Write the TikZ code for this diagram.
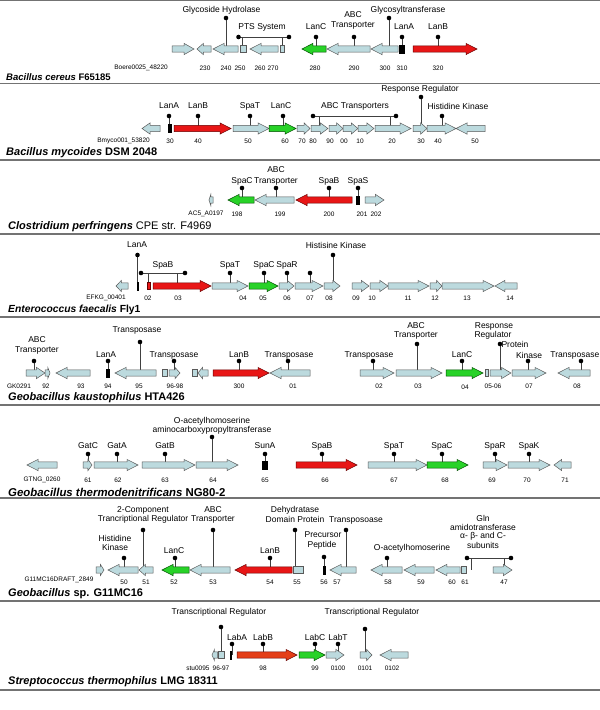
\documentclass[tikz,border=0pt]{standalone}
\usepackage{fontspec}
\setmainfont{Liberation Sans}
\definecolor{lblue}{RGB}{188,218,222}
\definecolor{lgreen}{RGB}{40,210,40}
\definecolor{lred}{RGB}{232,22,22}
\definecolor{lorange}{RGB}{228,62,24}
\tikzset{
 gb/.style={draw=black!65, fill=lblue, line width=0.5pt},
 gg/.style={draw=green!30!black, fill=lgreen, line width=0.5pt},
 gr/.style={draw=red!40!black, fill=lred, line width=0.5pt},
 go/.style={draw=red!40!black, fill=lorange, line width=0.5pt},
 pinl/.style={draw=black!75, line width=0.7pt},
 lab/.style={font=\fontsize{8.5}{9}\selectfont, inner sep=0pt},
 numl/.style={font=\fontsize{6.5}{7}\selectfont, inner sep=0pt},
 sepl/.style={draw=black!55, line width=1.3pt},
}
\newcommand{\geneR}[4][gb]{\pgfmathsetmacro{\hlen}{min(11,0.45*(#3-#2))}\draw[#1] (#2,#4-3.2) -- ({#3-\hlen},#4-3.2) -- ({#3-\hlen},#4-5.6) -- (#3,#4) -- ({#3-\hlen},#4+5.6) -- ({#3-\hlen},#4+3.2) -- (#2,#4+3.2) -- cycle;}
\newcommand{\geneL}[4][gb]{\pgfmathsetmacro{\hlen}{min(11,0.45*(#3-#2))}\draw[#1] (#3,#4-3.2) -- ({#2+\hlen},#4-3.2) -- ({#2+\hlen},#4-5.6) -- (#2,#4) -- ({#2+\hlen},#4+5.6) -- ({#2+\hlen},#4+3.2) -- (#3,#4+3.2) -- cycle;}
\newcommand{\geneB}[4][gb]{\draw[#1] (#2,#4-3.4) rectangle (#3,#4+3.4);}
\newcommand{\geneK}[3]{\fill[black] (#1,#3-4.5) rectangle (#2,#3+4.5);}
\newcommand{\pin}[3]{\draw[pinl] (#1,#2) -- (#1,#3); \fill[black] (#1,#2) circle (2.3pt);}
\newcommand{\brk}[6]{\draw[pinl] (#1,#3) -- (#2,#3) (#4,#3) -- (#4,#6) (#5,#3) -- (#5,#6); \fill[black] (#1,#3) circle (2.3pt) (#2,#3) circle (2.3pt);}
\newcommand{\lab}[3]{\node[lab] at (#1,#2) {#3};}
\newcommand{\gnum}[3]{\node[numl] at (#1,#2) {#3};}
\newcommand{\org}[4]{\node[anchor=west,inner sep=0pt,font=\fontsize{#3}{#3}\selectfont\bfseries] at (#1,#2) {#4};}
\begin{document}
\begin{tikzpicture}[x=1pt,y=-1pt]
\useasboundingbox (0,0) rectangle (600,710);
\fill[white] (0,0) rectangle (600,710);
\draw[sepl] (0,0.7) -- (600,0.7);
% ---------------- Panel 1
\pin{226}{18}{49}
\brk{238.5}{289}{37}{242}{282}{49}
\pin{316}{37}{49}
\pin{354}{37}{49}
\pin{389}{18}{49}
\pin{402}{37}{49}
\pin{438}{37}{49}
\geneR{172}{194}{49}
\geneL{197}{211}{49}
\geneL{213}{238}{49}
\geneB{240}{246}{49}
\geneL{250}{278}{49}
\geneB{280}{284}{49}
\geneL[gg]{302}{326}{49}
\geneL{327}{370}{49}
\geneL{371}{398}{49}
\geneK{399}{405}{49}
\geneR[gr]{413}{477}{49}
\lab{221.5}{10}{Glycoside Hydrolase}
\lab{262}{27}{PTS System}
\lab{316}{27}{LanC}
\lab{353}{15}{ABC}
\lab{353}{25}{Transporter}
\lab{408}{10}{Glycosyltransferase}
\lab{404}{27}{LanA}
\lab{438}{27}{LanB}
\node[numl,anchor=east] at (168,68) {Boere0025\_48220};
\gnum{205}{68}{230}\gnum{226}{68}{240}\gnum{240}{68}{250}\gnum{260}{68}{260}\gnum{273}{68}{270}
\gnum{315}{68}{280}\gnum{354}{68}{290}\gnum{385}{68}{300}\gnum{402}{68}{310}\gnum{438}{68}{320}
\org{6}{77}{9.5}{\itshape Bacillus cereus \upshape F65185}
\draw[sepl] (0,83.5) -- (600,83.5);
% ---------------- Panel 2
\pin{169}{116}{128.5}
\pin{198}{116}{128.5}
\pin{250}{116}{128.5}
\pin{283}{116}{128.5}
\brk{313}{396}{116}{319}{390}{128.5}
\pin{421}{97}{128.5}
\pin{442}{116}{128.5}
\geneL{142}{160}{128.5}
\geneK{168}{172}{128.5}
\geneR[gr]{174}{231}{128.5}
\geneR{233}{269}{128.5}
\geneR[gg]{269}{296}{128.5}
\geneR{297}{310}{128.5}
\geneR{311}{328}{128.5}
\geneR{329}{343}{128.5}
\geneR{343}{358}{128.5}
\geneR{358}{374}{128.5}
\geneR{375}{411}{128.5}
\geneR{413}{427}{128.5}
\geneR{427}{456}{128.5}
\geneL{456}{485}{128.5}
\lab{169}{106}{LanA}\lab{198}{106}{LanB}\lab{250}{106}{SpaT}\lab{281}{106}{LanC}
\lab{355}{106}{ABC Transporters}\lab{458}{106}{Histidine Kinase}
\lab{420}{89}{Response Regulator}
\node[numl,anchor=east] at (150,141) {Bmyco001\_53820};
\gnum{170}{141}{30}\gnum{198}{141}{40}\gnum{248}{141}{50}\gnum{285}{141}{60}\gnum{302}{141}{70}
\gnum{313}{141}{80}\gnum{330}{141}{90}\gnum{344}{141}{00}\gnum{360}{141}{10}\gnum{392}{141}{20}
\gnum{421}{141}{30}\gnum{438}{141}{40}\gnum{475}{141}{50}
\org{6}{153}{11}{\itshape Bacillus mycoides \upshape DSM 2048}
\draw[sepl] (0,160) -- (600,160);
% ---------------- Panel 3
\pin{242}{188}{200}
\pin{276}{188}{200}
\pin{329}{188}{200}
\pin{358}{188}{200}
\geneL{209}{213}{200}
\geneL[gg]{228}{254}{200}
\geneL{255}{294}{200}
\geneL[gr]{296}{352}{200}
\geneK{356}{359.5}{200}
\geneR{365}{384}{200}
\lab{276}{170}{ABC}\lab{276}{181}{Transporter}
\lab{242}{181}{SpaC}\lab{329}{181}{SpaB}\lab{358}{181}{SpaS}
\gnum{206}{214}{AC5\_A0197}\gnum{237}{214}{198}\gnum{280}{214}{199}\gnum{329}{214}{200}
\gnum{362}{214}{201}\gnum{376}{214}{202}
\org{8}{227}{11}{\itshape Clostridium perfringens \upshape\mdseries CPE str. F4969}
\draw[sepl] (0,234) -- (600,234);
% ---------------- Panel 4
\pin{137.5}{255}{286}
\pin{333}{255}{286}
\brk{141}{185}{273}{148.5}{177}{286}
\pin{230}{273}{286}
\pin{264}{273}{286}
\pin{287}{273}{286}
\pin{310}{273}{286}
\geneL{116}{128}{286}
\geneK{136.5}{138.5}{286}
\geneB[gr]{147.5}{150}{286}
\geneR[gr]{153}{211}{286}
\geneR{212}{248}{286}
\geneR[gg]{249}{278}{286}
\geneR{279}{294}{286}
\geneR{295}{323}{286}
\geneR{324}{340}{286}
\geneR{352}{369}{286}
\geneR{370}{388}{286}
\geneR{388}{429}{286}
\geneR{430}{442}{286}
\geneR{442}{494}{286}
\geneL{495}{517}{286}
\lab{137}{245}{LanA}\lab{336}{245}{Histisine Kinase}
\lab{163}{265}{SpaB}\lab{230}{265}{SpaT}\lab{264}{265}{SpaC}\lab{287}{265}{SpaR}
\gnum{106}{298}{EFKG\_00401}\gnum{148}{298}{02}\gnum{178}{298}{03}\gnum{243}{298}{04}\gnum{263}{298}{05}
\gnum{287}{298}{06}\gnum{310}{298}{07}\gnum{329}{298}{08}\gnum{356}{298}{09}\gnum{372}{298}{10}
\gnum{408}{298}{11}\gnum{435}{298}{12}\gnum{467}{298}{13}\gnum{510}{298}{14}
\org{8}{310}{10.3}{\itshape Enterococcus faecalis \upshape Fly1}
\draw[sepl] (0,317) -- (600,317);
% ---------------- Panel 5
\pin{34}{361}{373}
\pin{140}{342}{373}
\pin{108}{361}{373}
\pin{174}{361}{373}
\pin{239}{361}{373}
\pin{288}{361}{373}
\pin{373}{361}{373}
\pin{417}{344}{373}
\pin{462}{361}{373}
\pin{500}{344}{373}
\pin{528}{361}{373}
\pin{581}{361}{373}
\geneR{26}{45}{373}
\geneR{45}{50}{373}
\geneL{56}{90}{373}
\geneK{106}{110}{373}
\geneL{115}{156}{373}
\geneB{162}{167}{373}
\geneR{169}{180}{373}
\geneB{192}{197}{373}
\geneL{198}{208}{373}
\geneR[gr]{213}{269}{373}
\geneL{270}{310}{373}
\geneR{360}{394}{373}
\geneR{396}{442}{373}
\geneR[gg]{446}{483}{373}
\geneB{485}{488}{373}
\geneR{490}{511}{373}
\geneR{512}{546}{373}
\geneL{558}{590}{373}
\lab{37}{340}{ABC}\lab{37}{350}{Transporter}
\lab{137}{330}{Transposase}
\lab{106}{355}{LanA}\lab{174}{355}{Transposase}\lab{239}{355}{LanB}\lab{289}{355}{Transposase}
\lab{369}{355}{Transposase}
\lab{416}{326}{ABC}\lab{416}{335.5}{Transporter}
\lab{462}{355}{LanC}
\lab{494}{326}{Response}\lab{493}{335.5}{Regulator}
\lab{515}{344}{Protein}\lab{529}{355}{Kinase}
\node[lab,anchor=east] at (599.5,355) {Transposase};
\gnum{19}{386}{GK0291}\gnum{46}{386}{92}\gnum{81}{386}{93}\gnum{108}{386}{94}\gnum{139}{386}{95}
\gnum{175}{386}{96-98}\gnum{239}{386}{300}\gnum{293}{386}{01}\gnum{379}{386}{02}\gnum{418}{386}{03}
\gnum{465}{387}{04}\gnum{493}{386}{05-06}\gnum{529}{386}{07}\gnum{577}{386}{08}
\org{8}{398}{11}{\itshape Geobacillus kaustophilus \upshape HTA426}
\draw[sepl] (0,405) -- (600,405);
% ---------------- Panel 6
\pin{212}{437}{465}
\pin{88}{454}{465}
\pin{117}{454}{465}
\pin{165}{454}{465}
\pin{265}{454}{465}
\pin{322}{454}{465}
\pin{394}{454}{465}
\pin{442}{454}{465}
\pin{495}{454}{465}
\pin{529}{454}{465}
\geneL{27}{57}{465}
\geneR{83}{92}{465}
\geneR{94}{138}{465}
\geneR{142}{195}{465}
\geneR{196}{238}{465}
\geneK{262}{268}{465}
\geneR[gr]{296}{357}{465}
\geneR{368}{427}{465}
\geneR[gg]{427}{468}{465}
\geneR{483}{507}{465}
\geneR{508}{550}{465}
\geneL{554}{571}{465}
\lab{212}{421}{O-acetylhomoserine}\lab{212}{430}{aminocarboxypropyltransferase}
\lab{88}{446}{GatC}\lab{117}{446}{GatA}\lab{165}{446}{GatB}\lab{265}{446}{SunA}\lab{322}{446}{SpaB}
\lab{394}{446}{SpaT}\lab{442}{446}{SpaC}\lab{495}{446}{SpaR}\lab{529}{446}{SpaK}
\gnum{42}{480}{GTNG\_0260}\gnum{88}{480}{61}\gnum{118}{480}{62}\gnum{165}{480}{63}\gnum{213}{480}{64}
\gnum{265}{480}{65}\gnum{325}{480}{66}\gnum{394}{480}{67}\gnum{445}{480}{68}\gnum{492}{480}{69}
\gnum{527}{480}{70}\gnum{565}{480}{71}
\org{8}{492}{11.4}{\itshape Geobacillus thermodenitrificans \upshape NG80-2}
\draw[sepl] (0,498) -- (600,498);
% ---------------- Panel 7
\pin{143}{530}{570}
\pin{213}{530}{570}
\pin{295}{530}{570}
\pin{346}{530}{570}
\pin{124}{558}{570}
\pin{175}{558}{570}
\pin{270}{558}{570}
\pin{324}{557}{570}
\pin{387}{558}{570}
\brk{467}{511}{558}{471}{504}{570}
\geneR{96}{104}{570}
\geneL{108}{138}{570}
\geneL{139}{153}{570}
\geneL[gg]{162}{189}{570}
\geneL{190}{230}{570}
\geneL[gr]{235}{292}{570}
\geneB{293}{303}{570}
\geneK{323}{326}{570}
\geneL{330}{356}{570}
\geneL{371}{402}{570}
\geneL{404}{434}{570}
\geneL{436}{460}{570}
\geneB{461}{466}{570}
\geneR{493}{512}{570}
\lab{143}{510}{2-Component}\lab{143}{519}{Trancriptional Regulator}
\lab{213}{510}{ABC}\lab{213}{519}{Transporter}
\lab{295}{510}{Dehydratase}\lab{295}{519}{Domain Protein}
\lab{356}{520}{Transposoase}
\lab{483}{518}{Gln}\lab{483}{527}{amidotransferase}\lab{483}{536}{α- β- and C-}\lab{483}{545}{subunits}
\lab{115}{538}{Histidine}\lab{115}{547}{Kinase}
\lab{174}{551}{LanC}\lab{270}{551}{LanB}
\lab{323}{535}{Precursor}\lab{322}{545}{Peptide}
\lab{412}{548}{O-acetylhomoserine}
\gnum{59}{580}{G11MC16DRAFT\_2849}\gnum{124}{582}{50}\gnum{146}{582}{51}\gnum{174}{582}{52}
\gnum{213}{582}{53}\gnum{270}{582}{54}\gnum{297}{582}{55}\gnum{324}{582}{56}\gnum{337}{582}{57}
\gnum{388}{582}{58}\gnum{421}{582}{59}\gnum{452}{582}{60}\gnum{465}{582}{61}\gnum{504}{582}{47}
\org{8}{594}{11}{\itshape Geobacillus \upshape sp. G11MC16}
\draw[sepl] (0,601) -- (600,601);
% ---------------- Panel 8
\pin{221}{627}{655}
\pin{365}{629}{655}
\pin{232}{644}{655}
\pin{263}{644}{655}
\pin{315}{644}{655}
\pin{338}{644}{655}
\geneL{212}{217.5}{655}
\geneB{218}{224}{655}
\geneK{230}{232}{655}
\geneR[go]{237}{297}{655}
\geneR[gg]{299}{325}{655}
\geneR{326}{344}{655}
\geneR{360}{372}{655}
\geneL{380}{408}{655}
\lab{219}{612}{Transcriptional Regulator}\lab{372}{612}{Transcriptional Regulator}
\lab{237}{637}{LabA}\lab{263}{637}{LabB}\lab{315}{637}{LabC}\lab{338}{637}{LabT}
\gnum{198}{668}{stu0095}\gnum{221}{668}{96-97}\gnum{263}{668}{98}\gnum{315}{668}{99}
\gnum{338}{668}{0100}\gnum{365}{668}{0101}\gnum{392}{668}{0102}
\org{8}{682}{11}{\itshape Streptococcus thermophilus \upshape LMG 18311}
\draw[sepl] (0,690) -- (600,690);
\end{tikzpicture}
\end{document}
